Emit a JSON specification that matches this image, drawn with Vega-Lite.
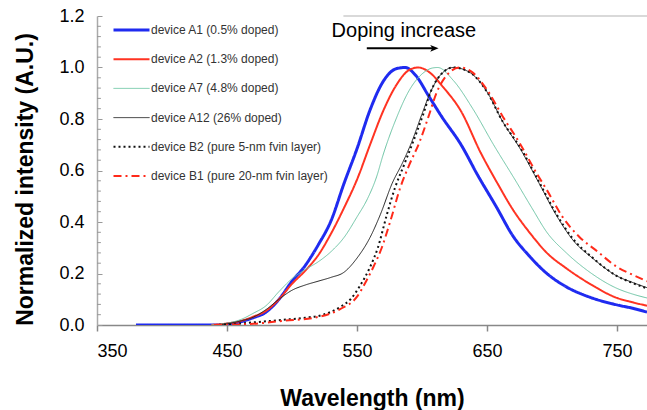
{
  "$schema": "https://vega.github.io/schema/vega-lite/v6.json",
  "autosize": "none",
  "width": 550,
  "height": 309,
  "padding": {"left": 97, "top": 16, "right": 0, "bottom": 85},
  "background": "white",
  "config": {"view": {"stroke": null}, "font": "Liberation Sans"},
  "datasets": {
    "spectra": [
      {"device": "device A1 (0.5% doped)", "x": 380, "y": 0},
      {"device": "device A1 (0.5% doped)", "x": 445, "y": 0},
      {"device": "device A1 (0.5% doped)", "x": 452, "y": 0.005},
      {"device": "device A1 (0.5% doped)", "x": 460, "y": 0.012},
      {"device": "device A1 (0.5% doped)", "x": 470, "y": 0.028},
      {"device": "device A1 (0.5% doped)", "x": 480, "y": 0.05},
      {"device": "device A1 (0.5% doped)", "x": 490, "y": 0.1},
      {"device": "device A1 (0.5% doped)", "x": 500, "y": 0.17},
      {"device": "device A1 (0.5% doped)", "x": 510, "y": 0.23},
      {"device": "device A1 (0.5% doped)", "x": 520, "y": 0.31},
      {"device": "device A1 (0.5% doped)", "x": 530, "y": 0.405},
      {"device": "device A1 (0.5% doped)", "x": 540, "y": 0.55},
      {"device": "device A1 (0.5% doped)", "x": 550, "y": 0.685},
      {"device": "device A1 (0.5% doped)", "x": 560, "y": 0.835},
      {"device": "device A1 (0.5% doped)", "x": 570, "y": 0.945},
      {"device": "device A1 (0.5% doped)", "x": 580, "y": 0.995},
      {"device": "device A1 (0.5% doped)", "x": 587, "y": 1.0},
      {"device": "device A1 (0.5% doped)", "x": 595, "y": 0.97},
      {"device": "device A1 (0.5% doped)", "x": 605, "y": 0.89},
      {"device": "device A1 (0.5% doped)", "x": 615, "y": 0.81},
      {"device": "device A1 (0.5% doped)", "x": 630, "y": 0.7},
      {"device": "device A1 (0.5% doped)", "x": 643, "y": 0.58},
      {"device": "device A1 (0.5% doped)", "x": 657, "y": 0.46},
      {"device": "device A1 (0.5% doped)", "x": 670, "y": 0.345},
      {"device": "device A1 (0.5% doped)", "x": 683, "y": 0.265},
      {"device": "device A1 (0.5% doped)", "x": 696, "y": 0.2},
      {"device": "device A1 (0.5% doped)", "x": 711, "y": 0.148},
      {"device": "device A1 (0.5% doped)", "x": 729, "y": 0.108},
      {"device": "device A1 (0.5% doped)", "x": 750, "y": 0.078},
      {"device": "device A1 (0.5% doped)", "x": 762, "y": 0.065},
      {"device": "device A1 (0.5% doped)", "x": 773, "y": 0.05},

      {"device": "device A2 (1.3% doped)", "x": 438, "y": 0},
      {"device": "device A2 (1.3% doped)", "x": 450, "y": 0.006},
      {"device": "device A2 (1.3% doped)", "x": 460, "y": 0.015},
      {"device": "device A2 (1.3% doped)", "x": 470, "y": 0.032},
      {"device": "device A2 (1.3% doped)", "x": 480, "y": 0.055},
      {"device": "device A2 (1.3% doped)", "x": 490, "y": 0.1},
      {"device": "device A2 (1.3% doped)", "x": 500, "y": 0.16},
      {"device": "device A2 (1.3% doped)", "x": 510, "y": 0.21},
      {"device": "device A2 (1.3% doped)", "x": 520, "y": 0.27},
      {"device": "device A2 (1.3% doped)", "x": 530, "y": 0.355},
      {"device": "device A2 (1.3% doped)", "x": 540, "y": 0.455},
      {"device": "device A2 (1.3% doped)", "x": 550, "y": 0.565},
      {"device": "device A2 (1.3% doped)", "x": 560, "y": 0.7},
      {"device": "device A2 (1.3% doped)", "x": 570, "y": 0.83},
      {"device": "device A2 (1.3% doped)", "x": 580, "y": 0.93},
      {"device": "device A2 (1.3% doped)", "x": 590, "y": 0.99},
      {"device": "device A2 (1.3% doped)", "x": 597, "y": 1.0},
      {"device": "device A2 (1.3% doped)", "x": 606, "y": 0.98},
      {"device": "device A2 (1.3% doped)", "x": 616, "y": 0.925},
      {"device": "device A2 (1.3% doped)", "x": 630, "y": 0.83},
      {"device": "device A2 (1.3% doped)", "x": 645, "y": 0.67},
      {"device": "device A2 (1.3% doped)", "x": 658, "y": 0.55},
      {"device": "device A2 (1.3% doped)", "x": 670, "y": 0.447},
      {"device": "device A2 (1.3% doped)", "x": 683, "y": 0.357},
      {"device": "device A2 (1.3% doped)", "x": 696, "y": 0.28},
      {"device": "device A2 (1.3% doped)", "x": 711, "y": 0.22},
      {"device": "device A2 (1.3% doped)", "x": 729, "y": 0.16},
      {"device": "device A2 (1.3% doped)", "x": 750, "y": 0.105},
      {"device": "device A2 (1.3% doped)", "x": 762, "y": 0.088},
      {"device": "device A2 (1.3% doped)", "x": 773, "y": 0.075},

      {"device": "device A7 (4.8% doped)", "x": 438, "y": 0},
      {"device": "device A7 (4.8% doped)", "x": 450, "y": 0.007},
      {"device": "device A7 (4.8% doped)", "x": 460, "y": 0.02},
      {"device": "device A7 (4.8% doped)", "x": 470, "y": 0.045},
      {"device": "device A7 (4.8% doped)", "x": 480, "y": 0.075},
      {"device": "device A7 (4.8% doped)", "x": 490, "y": 0.13},
      {"device": "device A7 (4.8% doped)", "x": 500, "y": 0.18},
      {"device": "device A7 (4.8% doped)", "x": 510, "y": 0.215},
      {"device": "device A7 (4.8% doped)", "x": 520, "y": 0.245},
      {"device": "device A7 (4.8% doped)", "x": 530, "y": 0.285},
      {"device": "device A7 (4.8% doped)", "x": 540, "y": 0.34},
      {"device": "device A7 (4.8% doped)", "x": 550, "y": 0.42},
      {"device": "device A7 (4.8% doped)", "x": 558, "y": 0.49},
      {"device": "device A7 (4.8% doped)", "x": 565, "y": 0.575},
      {"device": "device A7 (4.8% doped)", "x": 570, "y": 0.66},
      {"device": "device A7 (4.8% doped)", "x": 580, "y": 0.8},
      {"device": "device A7 (4.8% doped)", "x": 590, "y": 0.91},
      {"device": "device A7 (4.8% doped)", "x": 600, "y": 0.975},
      {"device": "device A7 (4.8% doped)", "x": 608, "y": 0.998},
      {"device": "device A7 (4.8% doped)", "x": 612, "y": 1.0},
      {"device": "device A7 (4.8% doped)", "x": 624, "y": 0.95},
      {"device": "device A7 (4.8% doped)", "x": 639, "y": 0.84},
      {"device": "device A7 (4.8% doped)", "x": 655, "y": 0.7},
      {"device": "device A7 (4.8% doped)", "x": 672, "y": 0.56},
      {"device": "device A7 (4.8% doped)", "x": 685, "y": 0.45},
      {"device": "device A7 (4.8% doped)", "x": 696, "y": 0.36},
      {"device": "device A7 (4.8% doped)", "x": 711, "y": 0.28},
      {"device": "device A7 (4.8% doped)", "x": 729, "y": 0.205},
      {"device": "device A7 (4.8% doped)", "x": 750, "y": 0.142},
      {"device": "device A7 (4.8% doped)", "x": 762, "y": 0.12},
      {"device": "device A7 (4.8% doped)", "x": 773, "y": 0.105},

      {"device": "device A12 (26% doped)", "x": 440, "y": 0},
      {"device": "device A12 (26% doped)", "x": 450, "y": 0.005},
      {"device": "device A12 (26% doped)", "x": 460, "y": 0.015},
      {"device": "device A12 (26% doped)", "x": 470, "y": 0.03},
      {"device": "device A12 (26% doped)", "x": 480, "y": 0.06},
      {"device": "device A12 (26% doped)", "x": 490, "y": 0.1},
      {"device": "device A12 (26% doped)", "x": 500, "y": 0.135},
      {"device": "device A12 (26% doped)", "x": 510, "y": 0.155},
      {"device": "device A12 (26% doped)", "x": 520, "y": 0.17},
      {"device": "device A12 (26% doped)", "x": 530, "y": 0.185},
      {"device": "device A12 (26% doped)", "x": 540, "y": 0.205},
      {"device": "device A12 (26% doped)", "x": 550, "y": 0.26},
      {"device": "device A12 (26% doped)", "x": 560, "y": 0.34},
      {"device": "device A12 (26% doped)", "x": 568, "y": 0.43},
      {"device": "device A12 (26% doped)", "x": 577, "y": 0.55},
      {"device": "device A12 (26% doped)", "x": 585, "y": 0.63},
      {"device": "device A12 (26% doped)", "x": 592, "y": 0.71},
      {"device": "device A12 (26% doped)", "x": 600, "y": 0.82},
      {"device": "device A12 (26% doped)", "x": 607, "y": 0.91},
      {"device": "device A12 (26% doped)", "x": 614, "y": 0.97},
      {"device": "device A12 (26% doped)", "x": 624, "y": 1.0},
      {"device": "device A12 (26% doped)", "x": 637, "y": 0.98},
      {"device": "device A12 (26% doped)", "x": 650, "y": 0.905},
      {"device": "device A12 (26% doped)", "x": 662, "y": 0.79},
      {"device": "device A12 (26% doped)", "x": 676, "y": 0.68},
      {"device": "device A12 (26% doped)", "x": 689, "y": 0.56},
      {"device": "device A12 (26% doped)", "x": 704, "y": 0.42},
      {"device": "device A12 (26% doped)", "x": 716, "y": 0.33},
      {"device": "device A12 (26% doped)", "x": 731, "y": 0.26},
      {"device": "device A12 (26% doped)", "x": 750, "y": 0.19},
      {"device": "device A12 (26% doped)", "x": 762, "y": 0.165},
      {"device": "device A12 (26% doped)", "x": 773, "y": 0.145},

      {"device": "device B2 (pure 5-nm fvin layer)", "x": 440, "y": 0},
      {"device": "device B2 (pure 5-nm fvin layer)", "x": 455, "y": 0.004},
      {"device": "device B2 (pure 5-nm fvin layer)", "x": 470, "y": 0.01},
      {"device": "device B2 (pure 5-nm fvin layer)", "x": 493, "y": 0.02},
      {"device": "device B2 (pure 5-nm fvin layer)", "x": 510, "y": 0.028},
      {"device": "device B2 (pure 5-nm fvin layer)", "x": 524, "y": 0.04},
      {"device": "device B2 (pure 5-nm fvin layer)", "x": 537, "y": 0.07},
      {"device": "device B2 (pure 5-nm fvin layer)", "x": 545, "y": 0.1},
      {"device": "device B2 (pure 5-nm fvin layer)", "x": 552, "y": 0.15},
      {"device": "device B2 (pure 5-nm fvin layer)", "x": 560, "y": 0.225},
      {"device": "device B2 (pure 5-nm fvin layer)", "x": 566, "y": 0.3},
      {"device": "device B2 (pure 5-nm fvin layer)", "x": 573, "y": 0.43},
      {"device": "device B2 (pure 5-nm fvin layer)", "x": 579, "y": 0.53},
      {"device": "device B2 (pure 5-nm fvin layer)", "x": 586, "y": 0.62},
      {"device": "device B2 (pure 5-nm fvin layer)", "x": 593, "y": 0.71},
      {"device": "device B2 (pure 5-nm fvin layer)", "x": 601, "y": 0.82},
      {"device": "device B2 (pure 5-nm fvin layer)", "x": 607, "y": 0.91},
      {"device": "device B2 (pure 5-nm fvin layer)", "x": 614, "y": 0.97},
      {"device": "device B2 (pure 5-nm fvin layer)", "x": 624, "y": 1.0},
      {"device": "device B2 (pure 5-nm fvin layer)", "x": 637, "y": 0.98},
      {"device": "device B2 (pure 5-nm fvin layer)", "x": 650, "y": 0.905},
      {"device": "device B2 (pure 5-nm fvin layer)", "x": 662, "y": 0.79},
      {"device": "device B2 (pure 5-nm fvin layer)", "x": 676, "y": 0.685},
      {"device": "device B2 (pure 5-nm fvin layer)", "x": 689, "y": 0.565},
      {"device": "device B2 (pure 5-nm fvin layer)", "x": 704, "y": 0.425},
      {"device": "device B2 (pure 5-nm fvin layer)", "x": 716, "y": 0.335},
      {"device": "device B2 (pure 5-nm fvin layer)", "x": 731, "y": 0.262},
      {"device": "device B2 (pure 5-nm fvin layer)", "x": 750, "y": 0.19},
      {"device": "device B2 (pure 5-nm fvin layer)", "x": 762, "y": 0.163},
      {"device": "device B2 (pure 5-nm fvin layer)", "x": 773, "y": 0.142},

      {"device": "device B1 (pure 20-nm  fvin layer)", "x": 440, "y": 0},
      {"device": "device B1 (pure 20-nm  fvin layer)", "x": 468, "y": 0.004},
      {"device": "device B1 (pure 20-nm  fvin layer)", "x": 493, "y": 0.016},
      {"device": "device B1 (pure 20-nm  fvin layer)", "x": 519, "y": 0.03},
      {"device": "device B1 (pure 20-nm  fvin layer)", "x": 537, "y": 0.062},
      {"device": "device B1 (pure 20-nm  fvin layer)", "x": 550, "y": 0.11},
      {"device": "device B1 (pure 20-nm  fvin layer)", "x": 557, "y": 0.17},
      {"device": "device B1 (pure 20-nm  fvin layer)", "x": 563, "y": 0.23},
      {"device": "device B1 (pure 20-nm  fvin layer)", "x": 569, "y": 0.3},
      {"device": "device B1 (pure 20-nm  fvin layer)", "x": 576, "y": 0.41},
      {"device": "device B1 (pure 20-nm  fvin layer)", "x": 583, "y": 0.53},
      {"device": "device B1 (pure 20-nm  fvin layer)", "x": 590, "y": 0.62},
      {"device": "device B1 (pure 20-nm  fvin layer)", "x": 598, "y": 0.71},
      {"device": "device B1 (pure 20-nm  fvin layer)", "x": 605, "y": 0.81},
      {"device": "device B1 (pure 20-nm  fvin layer)", "x": 611, "y": 0.9},
      {"device": "device B1 (pure 20-nm  fvin layer)", "x": 619, "y": 0.97},
      {"device": "device B1 (pure 20-nm  fvin layer)", "x": 629, "y": 1.0},
      {"device": "device B1 (pure 20-nm  fvin layer)", "x": 639, "y": 0.98},
      {"device": "device B1 (pure 20-nm  fvin layer)", "x": 650, "y": 0.913},
      {"device": "device B1 (pure 20-nm  fvin layer)", "x": 662, "y": 0.81},
      {"device": "device B1 (pure 20-nm  fvin layer)", "x": 675, "y": 0.707},
      {"device": "device B1 (pure 20-nm  fvin layer)", "x": 688, "y": 0.59},
      {"device": "device B1 (pure 20-nm  fvin layer)", "x": 696, "y": 0.524},
      {"device": "device B1 (pure 20-nm  fvin layer)", "x": 708, "y": 0.42},
      {"device": "device B1 (pure 20-nm  fvin layer)", "x": 721, "y": 0.342},
      {"device": "device B1 (pure 20-nm  fvin layer)", "x": 735, "y": 0.285},
      {"device": "device B1 (pure 20-nm  fvin layer)", "x": 750, "y": 0.225},
      {"device": "device B1 (pure 20-nm  fvin layer)", "x": 762, "y": 0.195},
      {"device": "device B1 (pure 20-nm  fvin layer)", "x": 773, "y": 0.17}
    ],
    "minorTicks": [
      {"x": 350, "x2": 353, "y": 0.04}, {"x": 350, "x2": 353, "y": 0.08}, {"x": 350, "x2": 353, "y": 0.12}, {"x": 350, "x2": 353, "y": 0.16},
      {"x": 350, "x2": 353, "y": 0.24}, {"x": 350, "x2": 353, "y": 0.28}, {"x": 350, "x2": 353, "y": 0.32}, {"x": 350, "x2": 353, "y": 0.36},
      {"x": 350, "x2": 353, "y": 0.44}, {"x": 350, "x2": 353, "y": 0.48}, {"x": 350, "x2": 353, "y": 0.52}, {"x": 350, "x2": 353, "y": 0.56},
      {"x": 350, "x2": 353, "y": 0.64}, {"x": 350, "x2": 353, "y": 0.68}, {"x": 350, "x2": 353, "y": 0.72}, {"x": 350, "x2": 353, "y": 0.76},
      {"x": 350, "x2": 353, "y": 0.84}, {"x": 350, "x2": 353, "y": 0.88}, {"x": 350, "x2": 353, "y": 0.92}, {"x": 350, "x2": 353, "y": 0.96},
      {"x": 350, "x2": 353, "y": 1.04}, {"x": 350, "x2": 353, "y": 1.08}, {"x": 350, "x2": 353, "y": 1.12}, {"x": 350, "x2": 353, "y": 1.16}
    ]
  },
  "layer": [
    {
      "data": {"values": [{"x": 539.5, "x2": 773, "y": 1.2}]},
      "mark": {"type": "rule", "color": "#cccccc", "strokeWidth": 1.5},
      "encoding": {
        "x": {"field": "x", "type": "quantitative"},
        "x2": {"field": "x2"},
        "y": {"field": "y", "type": "quantitative"}
      }
    },
    {
      "data": {"name": "minorTicks"},
      "mark": {"type": "rule", "color": "#999999", "strokeWidth": 1},
      "encoding": {
        "x": {"field": "x", "type": "quantitative"},
        "x2": {"field": "x2"},
        "y": {"field": "y", "type": "quantitative"}
      }
    },
    {
      "data": {"name": "spectra"},
      "mark": {"type": "line", "interpolate": "monotone", "clip": true},
      "encoding": {
        "x": {
          "field": "x", "type": "quantitative",
          "scale": {"domain": [350, 773], "nice": false, "zero": false},
          "axis": {
            "values": [350, 450, 550, 650, 750],
            "title": "Wavelength (nm)",
            "titleFont": "Liberation Sans", "titleFontSize": 23, "titleFontWeight": "bold",
            "titleColor": "#000000", "titleBaseline": "alphabetic", "titleY": 80,
            "labelFont": "Liberation Sans", "labelFontSize": 18, "labelColor": "#000000",
            "labelPadding": 11, "tickSize": 6, "tickColor": "#888888",
            "domainColor": "#888888", "domainWidth": 1.5, "tickWidth": 1.5, "grid": false
          }
        },
        "y": {
          "field": "y", "type": "quantitative",
          "scale": {"domain": [0, 1.2], "nice": false},
          "axis": {
            "values": [0, 0.2, 0.4, 0.6, 0.8, 1.0, 1.2],
            "format": ".1f",
            "labelOverlap": false,
            "title": "Normalized intensity (A.U.)",
            "titleFont": "Liberation Sans", "titleFontSize": 23, "titleFontWeight": "bold",
            "titleColor": "#000000", "titleAngle": -90, "titleBaseline": "alphabetic",
            "titleX": -65, "titleY": 163, "titleAlign": "center",
            "labelFont": "Liberation Sans", "labelFontSize": 18, "labelColor": "#000000",
            "labelPadding": 18, "tickSize": -5, "tickColor": "#999999",
            "domainColor": "#aaaaaa", "domainWidth": 1.5, "grid": false
          }
        },
        "color": {
          "field": "device", "type": "nominal",
          "scale": {
            "domain": ["device A1 (0.5% doped)", "device A2 (1.3% doped)", "device A7 (4.8% doped)", "device A12 (26% doped)", "device B2 (pure 5-nm fvin layer)", "device B1 (pure 20-nm  fvin layer)"],
            "range": ["#1f2bf0", "#ff3322", "#6cc4a4", "#222222", "#111111", "#ff2a1a"]
          },
          "legend": {
            "title": null, "orient": "none", "legendX": 15, "legendY": 4,
            "symbolType": "stroke", "symbolSize": 1296, "clipHeight": 20, "rowPadding": 9.2,
            "labelFont": "Liberation Sans", "labelFontSize": 12, "labelColor": "#333333",
            "labelOffset": 0, "labelLimit": 400, "padding": 0
          }
        },
        "strokeDash": {
          "field": "device", "type": "nominal",
          "scale": {
            "domain": ["device A1 (0.5% doped)", "device A2 (1.3% doped)", "device A7 (4.8% doped)", "device A12 (26% doped)", "device B2 (pure 5-nm fvin layer)", "device B1 (pure 20-nm  fvin layer)"],
            "range": [[1, 0], [1, 0], [1, 0], [1, 0], [2, 3], [8, 4, 2, 4]]
          },
          "legend": {
            "title": null, "orient": "none", "legendX": 15, "legendY": 4,
            "symbolType": "stroke", "symbolSize": 1296, "clipHeight": 20, "rowPadding": 9.2,
            "labelFont": "Liberation Sans", "labelFontSize": 12, "labelColor": "#333333",
            "labelOffset": 0, "labelLimit": 400, "padding": 0
          }
        },
        "strokeWidth": {
          "field": "device", "type": "nominal",
          "scale": {
            "type": "ordinal",
            "domain": ["device A1 (0.5% doped)", "device A2 (1.3% doped)", "device A7 (4.8% doped)", "device A12 (26% doped)", "device B2 (pure 5-nm fvin layer)", "device B1 (pure 20-nm  fvin layer)"],
            "range": [3, 2, 1, 1, 2, 2]
          },
          "legend": {
            "title": null, "orient": "none", "legendX": 15, "legendY": 4,
            "symbolType": "stroke", "symbolSize": 1296, "clipHeight": 20, "rowPadding": 9.2,
            "labelFont": "Liberation Sans", "labelFontSize": 12, "labelColor": "#333333",
            "labelOffset": 0, "labelLimit": 400, "padding": 0
          }
        }
      }
    },
    {
      "data": {"values": [{"x": 586, "y": 1.12, "label": "Doping increase"}]},
      "mark": {"type": "text", "font": "Liberation Sans", "fontSize": 20, "color": "#000000", "baseline": "alphabetic", "align": "center"},
      "encoding": {
        "x": {"field": "x", "type": "quantitative"},
        "y": {"field": "y", "type": "quantitative"},
        "text": {"field": "label"}
      }
    },
    {
      "data": {"values": [{"x": 557.5, "x2": 610, "y": 1.0745}]},
      "mark": {"type": "rule", "color": "#000000", "strokeWidth": 2},
      "encoding": {
        "x": {"field": "x", "type": "quantitative"},
        "x2": {"field": "x2"},
        "y": {"field": "y", "type": "quantitative"}
      }
    },
    {
      "data": {"values": [{"x": 609.5, "y": 1.0745}]},
      "mark": {"type": "point", "shape": "M -1 -0.8 L 1 0 L -1 0.8 L -0.5 0 Z", "filled": true, "color": "#000000", "size": 70, "opacity": 1},
      "encoding": {
        "x": {"field": "x", "type": "quantitative"},
        "y": {"field": "y", "type": "quantitative"}
      }
    }
  ]
}
